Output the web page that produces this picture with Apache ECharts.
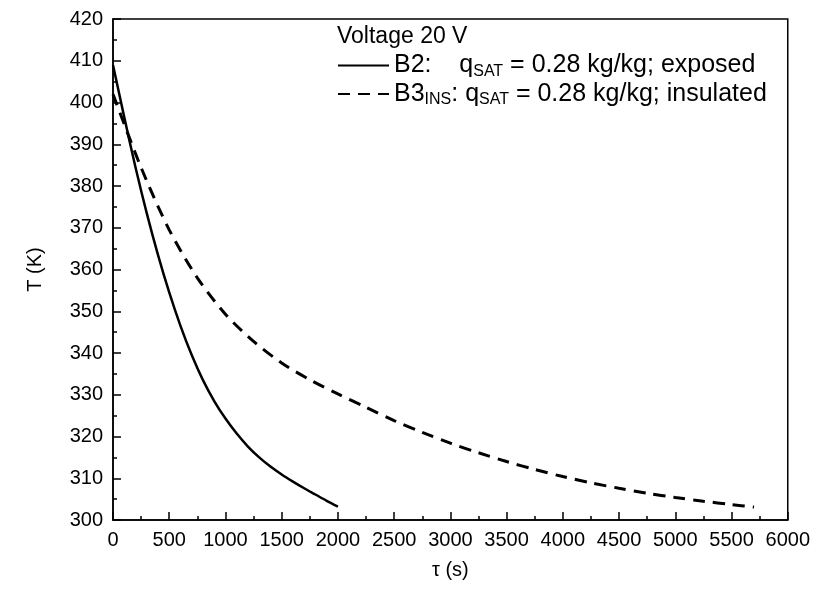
<!DOCTYPE html>
<html>
<head>
    <meta charset="utf-8">
    <script src="https://cdn.jsdelivr.net/npm/echarts@6/dist/echarts.min.js"></script>
</head>
<body style="margin:0;background:#fff;">
<div id="chart" style="width:813px;height:595px;"></div>
<script type="text/javascript">
    // B2 exposed (solid)
    var b2Time = [0, 100, 200, 300, 400, 500, 600, 700, 800, 900, 1000, 1100, 1200, 1300, 1400, 1500, 1600, 1700, 1800, 1900, 2000];
    var b2Temp = [409, 396.5, 384.5, 373.5, 363.5, 354.5, 346.5, 339.5, 333.5, 328.5, 324.3, 320.7, 317.6, 315, 312.8, 310.9,
        309.2, 307.6, 306.1, 304.6, 303.2];
    // B3 insulated (dashed)
    var b3Time = [0, 250, 500, 750, 1000, 1250, 1500, 1750, 2000, 2250, 2500, 2750, 3000, 3250, 3500, 3750, 4000,
        4250, 4500, 4750, 5000, 5250, 5500, 5700];
    var b3Temp = [402, 384.4, 369.5, 358, 349.3, 342.8, 337.6, 333.6, 330.2, 327, 323.8, 321, 318.4, 316.1, 314, 312.1, 310.4,
        308.9, 307.6, 306.4, 305.4, 304.5, 303.7, 303.1];

    function pairs(xs, ys) {
        var out = [];
        for (var i = 0; i < xs.length; i++) out.push([xs[i], ys[i]]);
        return out;
    }

    var font = 'Liberation Sans';
    var chart = echarts.init(document.getElementById('chart'));
    chart.setOption({
        backgroundColor: '#fff',
        animation: false,
        textStyle: {fontFamily: font, color: '#000'},
        grid: {left: 113, right: 22, top: 19, bottom: 75, show: true, borderColor: '#000', borderWidth: 1.5},
        graphic: [{
            type: 'text', left: 337, top: 25,
            style: {text: 'Voltage 20 V', font: '23px ' + font, fill: '#000'}
        }],
        legend: {
            orient: 'vertical', left: 337, top: 53, padding: 0, itemWidth: 51, itemHeight: 14, itemGap: 2,
            itemStyle: {opacity: 0},
            textStyle: {
                fontFamily: font, fontSize: 25, color: '#000',
                rich: {
                    s: {fontSize: 16, fontFamily: font, color: '#000', padding: [12, 0, 0, 0]}
                }
            },
            formatter: function (name) {
                if (name === 'B2') return 'B2:    q{s|SAT} = 0.28 kg/kg; exposed';
                return 'B3{s|INS}: q{s|SAT} = 0.28 kg/kg; insulated';
            },
            data: ['B2', 'B3']
        },
        xAxis: {
            type: 'value', min: 0, max: 6000, interval: 500,
            name: 'τ (s)', nameLocation: 'middle', nameGap: 40,
            nameTextStyle: {fontSize: 20, fontFamily: font, color: '#000'},
            axisLine: {lineStyle: {color: '#000', width: 1.5}},
            axisTick: {inside: true, length: 8, lineStyle: {color: '#000', width: 1.5}},
            minorTick: {show: true, splitNumber: 2, length: 4, lineStyle: {color: '#000', width: 1.5}},
            axisLabel: {fontSize: 20, color: '#000', fontFamily: font, margin: 10,
                formatter: function (v) { return String(v); }},
            splitLine: {show: false}
        },
        yAxis: {
            type: 'value', min: 300, max: 420, interval: 10,
            name: 'T (K)', nameLocation: 'middle', nameGap: 68, nameRotate: 90,
            nameTextStyle: {fontSize: 20, fontFamily: font, color: '#000'},
            axisLine: {show: true, lineStyle: {color: '#000', width: 1.5}},
            axisTick: {show: true, inside: true, length: 8, lineStyle: {color: '#000', width: 1.5}},
            minorTick: {show: true, splitNumber: 2, length: 4, lineStyle: {color: '#000', width: 1.5}},
            axisLabel: {fontSize: 20, color: '#000', fontFamily: font, margin: 10},
            splitLine: {show: false}
        },
        series: [{
            name: 'B2', type: 'line', data: pairs(b2Time, b2Temp),
            symbol: 'none', smooth: 0.3,
            lineStyle: {color: '#000', width: 2.5, type: 'solid'},
            itemStyle: {color: '#000'}
        }, {
            name: 'B3', type: 'line', data: pairs(b3Time, b3Temp),
            symbol: 'none', smooth: 0.3,
            lineStyle: {color: '#000', width: 3, type: [12, 8]},
            itemStyle: {color: '#000'}
        }]
    });
</script>
</body>
</html>
